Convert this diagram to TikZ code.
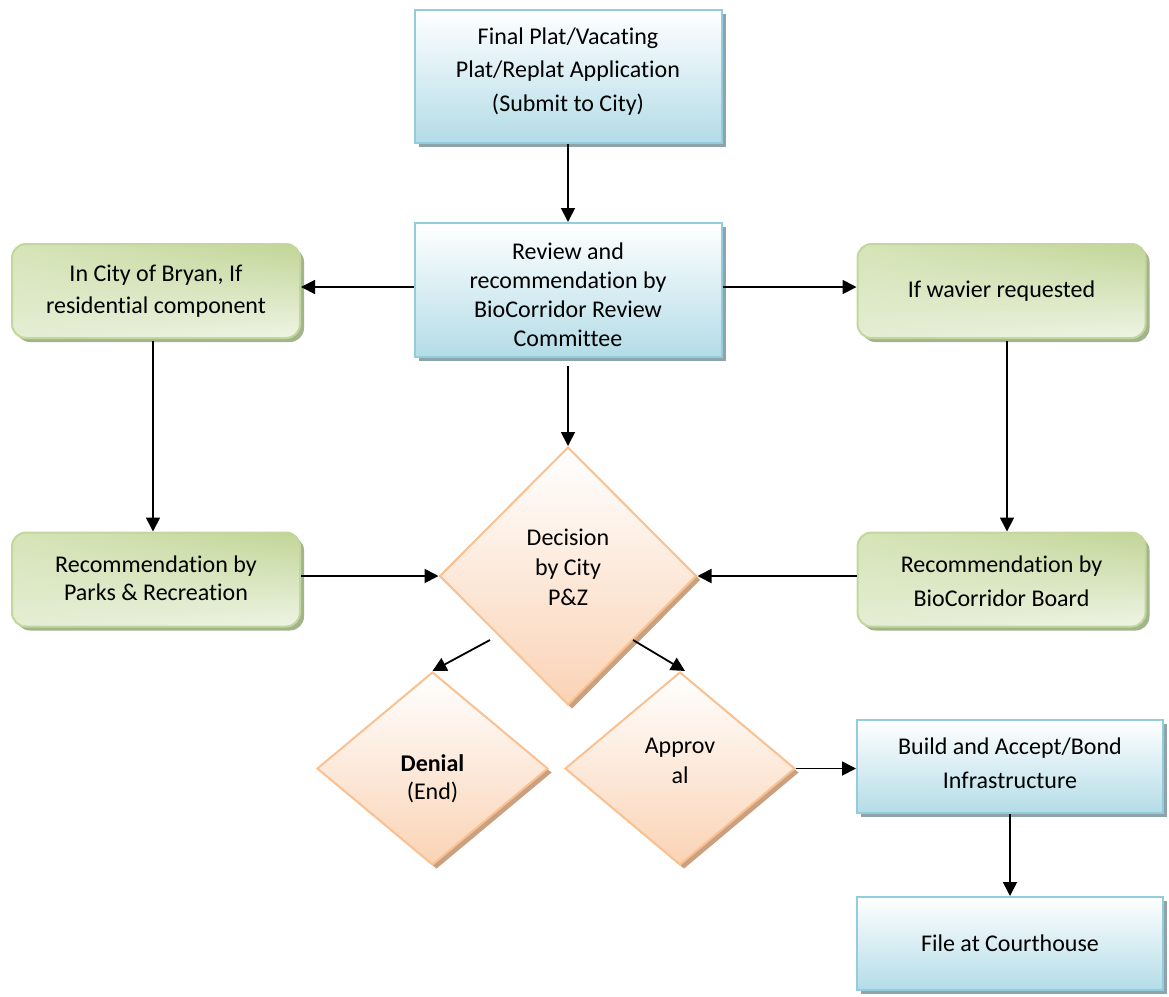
\documentclass[tikz,border=0pt]{standalone}
\usepackage{fontspec}
\setmainfont{Carlito}[Ligatures=NoCommon]
\usetikzlibrary{shapes.geometric,shadows,shadings,arrows.meta}
\definecolor{bluefill}{HTML}{B3DCE7}
\definecolor{blueedge}{HTML}{93CDDD}
\definecolor{blueshadow}{HTML}{8FA3AA}
\definecolor{greenedge}{HTML}{C3D69B}
\definecolor{greenshadow}{HTML}{A2B48A}
\definecolor{gUR}{HTML}{C1D597}
\definecolor{gUL}{HTML}{D6E4B8}
\definecolor{gLL}{HTML}{E4EDD3}
\definecolor{gLR}{HTML}{EEF4E4}
\definecolor{orangeedge}{HTML}{FAC090}
\definecolor{orangefill}{HTML}{FAD3B5}
\definecolor{orangeshadow}{HTML}{C9A181}
\begin{document}
\begin{tikzpicture}[x=1pt,y=-1pt,
  every node/.style={font=\fontsize{24}{33}\selectfont, align=center, inner sep=0pt},
  tx/.style 2 args={font=\fontsize{24}{#1}\selectfont, text height=#2, text depth=0pt},
  bluebox/.style={rectangle, draw=blueedge, line width=2pt, top color=white, bottom color=bluefill,
    minimum width=307pt, drop shadow={shadow xshift=4pt, shadow yshift=-4pt, fill=blueshadow, opacity=1}},
  greenbox/.style={rectangle, rounded corners=14pt, draw=greenedge, line width=2pt,
    upper right=gUR, upper left=gUL, lower left=gLL, lower right=gLR,
    minimum width=288pt, minimum height=94pt,
    drop shadow={shadow xshift=4pt, shadow yshift=-4pt, fill=greenshadow, opacity=1}},
  orangedia/.style={diamond, draw=orangeedge, line width=2pt, top color=white, bottom color=orangefill,
    drop shadow={shadow xshift=4pt, shadow yshift=-4pt, fill=orangeshadow, opacity=1}},
  arr/.style={-{Triangle[length=14pt,width=14pt]}, line width=1.8pt}
]
\useasboundingbox (0,0) rectangle (1169,996);

% blue boxes
\node[bluebox, minimum height=133pt, tx={33.5}{69pt}] (app) at (568,76.5) {Final Plat/Vacating\\Plat/Replat Application\\(Submit to City)};
\node[bluebox, minimum height=134pt, tx={29}{112pt}] (rev) at (568,290) {Review and\\recommendation by\\BioCorridor Review\\Committee};
\node[bluebox, minimum height=93pt, minimum width=306pt, tx={34}{43pt}] (build) at (1010,766.5) {Build and Accept/Bond\\Infrastructure};
\node[bluebox, minimum height=93pt, minimum width=306pt] (file) at (1010,943.5) {File at Courthouse};

% green boxes
\node[greenbox, tx={32}{44pt}] (bryan) at (156,291) {In City of Bryan, If\\residential component};
\node[greenbox] (waiver) at (1001.5,291) {If wavier requested};
\node[greenbox, tx={28}{41pt}] (parks) at (156,579.5) {Recommendation by\\Parks \& Recreation};
\node[greenbox, tx={34}{53pt}] (board) at (1001.5,579.5) {Recommendation by\\BioCorridor Board};

% diamonds
\node[orangedia, minimum width=257pt, minimum height=258pt, tx={30}{58pt}] (dec) at (568,576) {Decision\\by City\\P\&Z};
\node[orangedia, minimum width=231pt, minimum height=193pt, tx={28}{61pt}] (den) at (432.5,768.5) {\textbf{Denial}\\(End)};
\node[orangedia, minimum width=230pt, minimum height=193pt, tx={30}{29pt}] (appr) at (680,768.5) {Approv\\al};

% connectors
\coordinate (revs) at ([yshift=-8pt]rev.south);
\coordinate (decl) at (490,640);
\coordinate (decr) at (633,640);
\coordinate (rw) at ([yshift=3pt]rev.west);
\coordinate (re) at ([yshift=3pt]rev.east);
\draw[arr] (app.south) -- (rev.north);
\draw[arr] (rw) -- (rw -| bryan.east);
\draw[arr] (re) -- (re -| waiver.west);
\draw[arr] (revs) -- (dec.north);
\draw[arr] ([xshift=-3pt,yshift=-2pt]bryan.south) -- ([xshift=-3pt]parks.north);
\draw[arr] ([xshift=5.5pt,yshift=-2pt]waiver.south) -- ([xshift=5.5pt]board.north);
\draw[arr] (dec.west -| parks.east) -- (dec.west);
\draw[arr] (dec.east -| board.west) -- (dec.east);
\draw[arr] (decl) -- (den.north);
\draw[arr] (decr) -- ([xshift=5pt]appr.north);
\draw[arr] (appr.east) -- (appr.east -| build.west);
\draw[arr] (build.south) -- (file.north);
\end{tikzpicture}
\end{document}
